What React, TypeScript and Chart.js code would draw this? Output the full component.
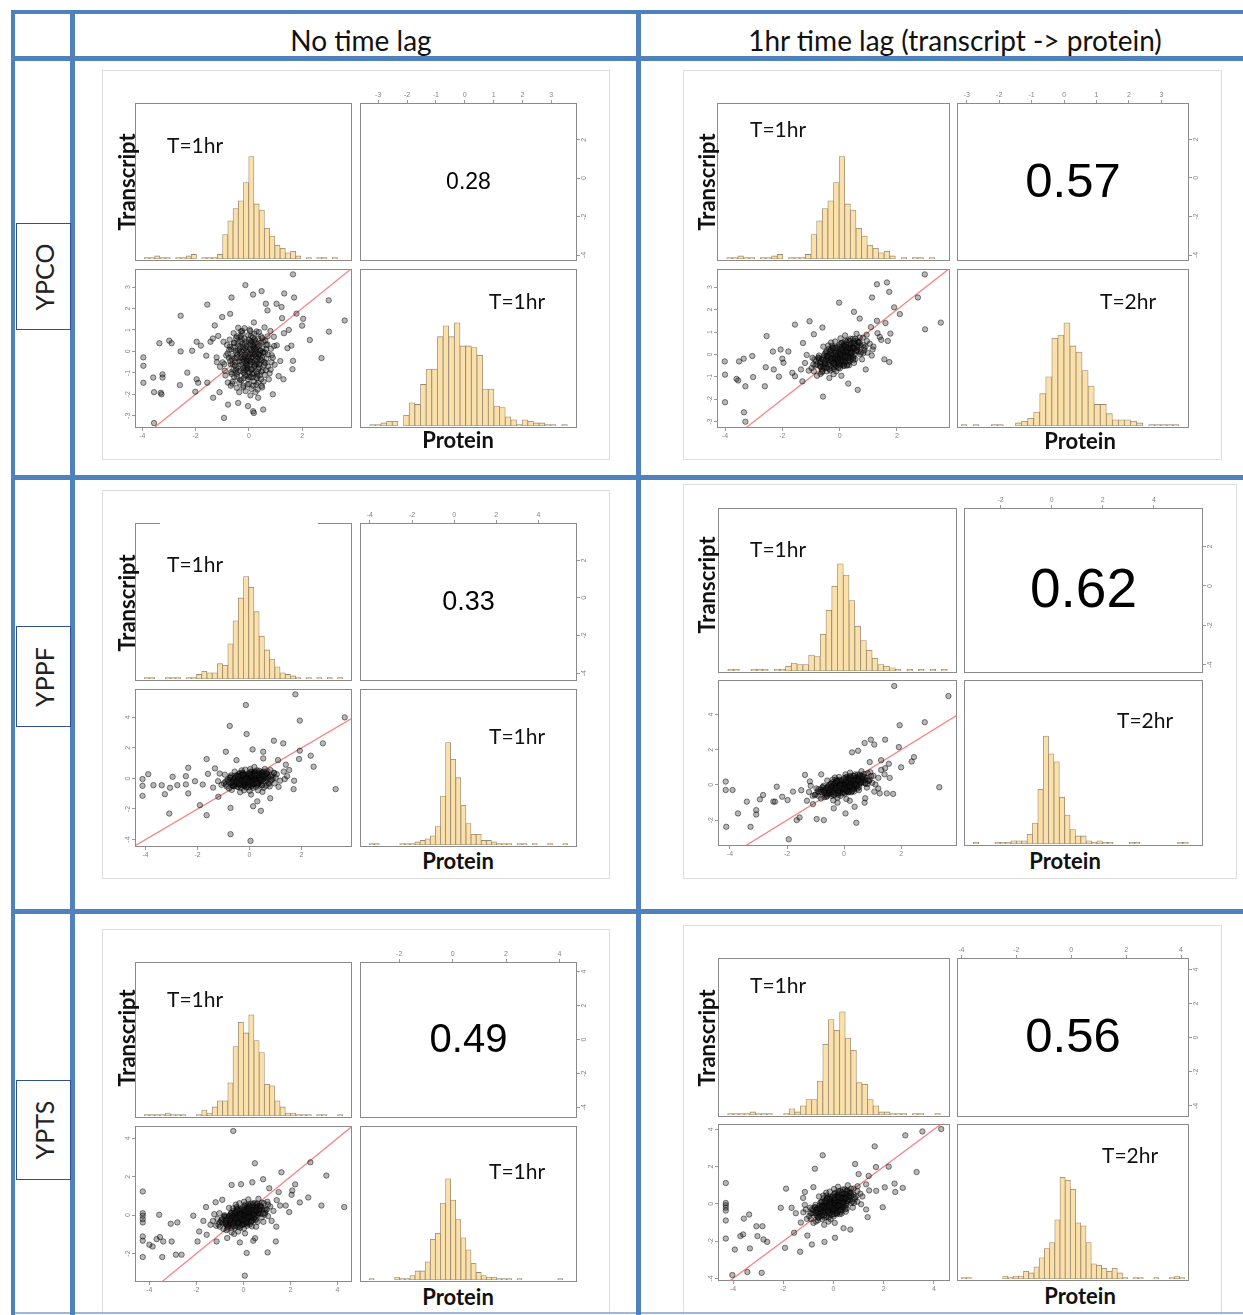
import React, { useEffect, useRef } from "react";
import { Chart, registerables } from "chart.js";

Chart.register(...registerables);

// ---------------- DATA ----------------
const columnHeaders = ["No time lag", "1hr time lag (transcript -> protein)"];
const strains = ["YPCO", "YPPF", "YPTS"];
const correlations = [0.28, 0.57, 0.33, 0.62, 0.49, 0.56];
const transcriptTimes = ["T=1hr", "T=1hr", "T=1hr", "T=1hr", "T=1hr", "T=1hr"];
const proteinTimes = ["T=1hr", "T=2hr", "T=1hr", "T=2hr", "T=1hr", "T=2hr"];
const identityLine = [-8, 8];

// histogram bar heights (% of panel height), left to right
const ypcoTranscriptHist = [0,1,1,2,1,1,0,1,1,2,3,0,1,1,1,3,16,25,33,38,50,67,36,32,20,15,9,7,4,5,2,0,1,0,1,1,0,1,0,0];
const ypcoProtein1hHist = [0,1,1,2,3,3,0,7,15,14,27,37,37,58,65,58,67,52,52,51,46,24,24,13,12,6,4,1,4,3,2,2,1,1,0,1,0];
const ypcoProtein2hHist = [1,0,1,0,0,1,1,0,0,2,3,5,9,21,32,57,59,67,52,48,36,26,14,14,8,4,4,4,3,2,0,1,1,1,1,1,0];
const yppfTranscriptHist = [0,1,1,0,0,1,1,1,0,1,1,3,5,4,4,10,9,23,38,53,67,60,44,28,19,13,8,4,3,2,1,0,1,0,1,0,1,0,1,0];
const yppfProtein1hHist = [0,1,1,0,0,0,0,1,1,1,2,3,4,6,12,32,67,56,44,26,14,7,7,3,3,2,1,1,1,0,1,1,0,1,0,0,1,0,0,1,0];
const yppfProtein2hHist = [0,1,0,0,0,1,1,1,2,2,2,6,13,34,67,56,51,29,18,9,5,5,2,1,2,1,1,0,0,0,1,1,0,0,0,0,0,0,0,1,1,0,0];
const yptsTranscriptHist = [0,1,1,1,1,2,1,1,1,0,0,1,4,2,6,10,10,22,46,62,55,67,50,42,21,20,10,6,2,2,1,1,1,0,1,1,0,0,1,0];
const yptsProtein1hHist = [0,1,0,0,0,0,2,1,1,3,6,6,12,27,31,51,67,53,40,28,20,11,5,3,2,2,1,1,1,0,1,0,0,0,0,0,0,0,1,0,0];
const yptsProtein2hHist = [1,1,0,0,0,0,0,0,2,1,2,2,5,4,8,14,20,24,39,67,65,59,37,35,24,10,9,7,5,7,4,1,0,1,1,0,0,1,0,0,1,2,1];

// scatter points [transcript, protein]
const ypcoNoLagCore: number[][] = [
[-0.52,-0.31],[0.12,0.44],[-0.18,-0.88],[0.37,-0.12],[-0.71,0.22],[0.05,-0.45],[0.62,0.51],[-0.33,-1.32],[0.21,-0.67],[-0.09,0.08],
[0.48,-0.94],[-0.61,-0.58],[0.29,0.93],[-0.24,0.36],[0.83,0.12],[-0.45,-1.05],[0.01,-1.52],[0.66,-0.33],[-0.85,-0.19],[0.17,0.18],
[-0.13,-0.29],[0.39,0.27],[-0.38,0.64],[0.94,0.68],[-0.02,-0.98],[0.55,-1.41],[-0.67,-0.97],[0.26,-0.22],[-0.29,-0.62],[0.08,0.72],
[0.72,-0.71],[-0.95,0.45],[0.33,-1.78],[-0.16,1.08],[1.05,0.28],[-0.51,0.04],[0.14,-1.21],[-0.79,-1.45],[0.44,0.02],[-0.06,-0.59],
[0.59,1.12],[-0.42,-0.16],[0.23,-0.41],[-1.08,-0.72],[0.86,-0.18],[-0.21,-1.68],[0.02,0.41],[0.41,-0.57],[-0.57,0.85],[1.18,-0.45],
[-0.34,0.12],[0.11,-0.83],[0.7,0.32],[-0.88,-1.12],[0.19,1.35],[-0.11,-1.14],[0.52,-0.05],[-0.63,-0.33],[0.31,-1.05],[-0.27,0.58],
[1.32,0.85],[-0.04,-0.24],[0.46,0.7],[-0.74,0.06],[0.15,-0.12],[-0.19,-0.43],[0.78,-1.02],[-0.47,-0.79],[0.03,1.02],[0.97,-0.62],
[-1.21,-0.28],[0.27,0.09],[-0.08,0.24],[0.64,-0.88],[-0.36,-1.9],[0.09,-0.34],[-0.55,0.38],[1.45,0.15],[0.36,-0.29],[-0.98,-0.51],
[0.22,0.56],[-0.14,-0.73],[0.5,-1.68],[-0.68,-1.6],[0.81,0.95],[-0.3,0.93],[1.12,-1.15],[-1.15,0.72],[0.06,-2.05],[0.58,-0.49]
];
const ypcoNoLagMid: number[][] = [
[0.72,-0.15],[-0.68,-0.6],[0.45,0.4],[-0.55,-1.2],[0.1,-1.75],[-0.25,0.95],[0.85,-0.5],[-0.82,0.3],[0.35,-1.45],[-0.4,1.1],
[0.6,-1.1],[-0.9,-0.9],[0.2,0.82],[-0.12,-1.85],[0.95,0.25],[-0.75,-0.3],[0.05,0.95],[0.4,-0.75],[-0.48,0.62],[0.7,0.7],
[-0.2,-1.6],[0.25,-1.9],[-0.62,-1.5],[0.82,-0.85],[-0.35,-0.45],[0.15,0.65],[-0.05,-0.8],[0.55,-0.05],[-0.72,0.55],[0.3,0.2],
[-0.15,-1.1],[0.48,-1.6],[-0.58,0.2],[0.12,-0.5],[-0.3,0.7],[0.65,0.1],[-0.45,-1.7],[0.02,-1.2],[0.38,0.9],[-0.8,-0.1],
[0.9,-0.3],[-0.22,0.2],[0.28,-0.6],[-0.5,-0.9],[0.75,-1.3],[-0.1,0.45],[0.18,-1.0],[-0.65,-1.05],[0.5,0.62],[-0.35,-0.05],
[0.08,-0.15],[-0.28,-1.35],[0.42,-0.35],[-0.92,-0.6],[0.62,-0.55],[-0.18,0.05],[0.22,0.4],[-0.42,0.35],[0.33,-1.15],[-0.08,-0.45]
];
const ypcoNoLagDense: number[][] = [
[0.05,-0.12],[-0.22,-0.35],[0.31,-0.48],[-0.4,0.05],[0.18,0.21],[-0.08,-0.71],[0.44,-0.2],[-0.31,-0.92],[0.12,-1.05],[-0.15,0.33],
[0.26,0.02],[-0.5,-0.5],[0.02,-0.44],[0.36,-0.82],[-0.27,-0.15],[0.09,0.48],[-0.62,-0.22],[0.51,0.14],[-0.03,-1.3],[0.22,-0.6],
[-0.44,-1.18],[0.15,-0.26],[-0.12,-0.55],[0.58,-0.62],[-0.35,0.24],[0.04,0.12],[0.33,0.35],[-0.2,-1.0],[0.4,-1.12],[-0.55,0.4],
[-0.07,-0.02],[0.27,-0.34],[-0.38,-0.68],[0.1,-0.85],[0.47,-0.42],[-0.16,0.6],[0.2,-1.4],[-0.47,-0.05],[0.06,-0.6],[0.35,0.6],
[-0.25,-0.48],[0.14,0.3],[-0.58,-0.85],[0.61,-0.05],[-0.1,-0.85],[0.29,-0.95],[-0.32,0.45],[0.0,-0.3],[0.42,0.05],[-0.19,-1.25],
[0.13,-0.05],[-0.43,-0.3],[0.24,0.5],[-0.05,-1.55],[0.52,-0.88],[-0.28,-0.02],[0.08,-1.2],[-0.66,0.1],[0.37,-0.15],[-0.13,0.15],
[0.19,-0.72],[-0.36,-1.45],[0.66,0.3],[-0.02,0.75],[0.3,-1.25],[-0.52,-0.65],[0.11,0.05],[-0.21,-0.78],[0.46,-1.3],[-0.09,-0.38],
[0.23,-0.12],[-0.45,0.7],[0.03,-0.95],[0.55,0.45],[-0.3,-0.3],[0.16,-1.6],[-0.6,-1.4],[0.39,-0.62],[-0.14,-0.15],[0.07,0.3],
[-0.24,0.85],[0.32,-0.05],[-0.4,-0.95],[0.5,-0.3],[-0.06,-0.65],[0.21,0.12],[-0.7,-0.45],[0.0,0.55],[0.28,-1.55],[-0.17,-0.25]
];
const ypcoNoLagTail: number[][] = [
[1.66,3.59],[-0.13,3.09],[-0.65,2.51],[0.16,2.65],[0.48,2.81],[1.33,2.7],[1.7,2.51],[3.0,2.38],[3.6,1.44],[3.01,0.92],
[2.29,0.53],[2.73,-0.31],[-1.56,2.18],[-2.56,1.66],[0.64,2.22],[1.04,2.22],[1.23,2.07],[0.7,1.91],[-1.28,1.21],[-1.44,0.45],
[-1.96,0.45],[-1.8,0.27],[-2.13,0.03],[-2.56,0.0],[-2.99,0.5],[-2.9,0.38],[-3.36,0.38],[-3.96,-0.28],[-3.96,-0.67],[-3.96,-1.46],
[-3.59,-1.22],[-3.24,-1.07],[-3.24,-1.22],[-3.56,-1.9],[-3.31,-1.93],[-3.28,-2.0],[-2.59,-1.57],[-2.31,-0.99],[-2.01,-1.88],[-1.96,-1.3],
[-1.9,-1.46],[-1.56,-1.46],[-1.34,-2.16],[-0.93,-3.1],[-3.56,-3.34],[-0.78,-2.48],[-0.03,-2.55],[0.16,-2.79],[0.19,-2.87],[0.54,-2.71],
[-0.4,-2.4],[0.35,-2.16],[2.04,1.52],[1.79,1.76],[2.0,1.2],[1.6,0.27],[1.66,-0.44],[1.64,-0.83],[-1.2,-0.5],[-1.35,0.6],
[1.5,1.0],[1.3,-1.3],[-1.0,1.6],[0.9,-2.0],[-1.6,-0.2],[1.25,1.55],[-0.7,1.75],[-1.1,-1.9]
];

const ypcoLagCore: number[][] = [
[-0.52,-0.41],[0.12,0.24],[-0.18,-0.38],[0.37,0.12],[-0.71,-0.22],[0.05,-0.25],[0.62,0.61],[-0.33,-0.72],[0.21,-0.17],[-0.09,0.18],
[0.48,-0.14],[-0.61,-0.68],[0.29,0.63],[-0.24,0.26],[0.83,0.42],[-0.45,-0.05],[0.01,-0.62],[0.66,0.13],[-0.85,-0.49],[0.17,0.38],
[-0.13,-0.09],[0.39,0.47],[-0.38,0.24],[0.94,0.88],[-0.02,-0.38],[0.55,-0.21],[-0.67,-0.87],[0.26,0.02],[-0.29,-0.32],[0.08,0.52],
[0.72,0.01],[-0.95,-0.15],[0.33,-0.48],[-0.16,0.58],[1.05,0.48],[-0.51,0.04],[0.14,-0.51],[-0.79,-0.95],[0.44,0.32],[-0.06,-0.19],
[0.59,0.92],[-0.42,-0.26],[0.23,0.09],[-1.08,-0.72],[0.86,0.18],[-0.21,-0.88],[0.02,0.21],[0.41,-0.07],[-0.57,0.35],[1.18,0.35],
[-0.34,0.02],[0.11,-0.33],[0.7,0.52],[-0.88,-0.22],[0.19,0.85],[-0.11,-0.54],[0.52,0.25],[-0.63,-0.43],[0.31,-0.25],[-0.27,0.38],
[1.32,0.95],[-0.04,0.06],[0.46,0.7],[-0.74,-0.14],[0.15,0.05],[-0.19,-0.13],[0.78,-0.22],[-0.47,-0.59],[0.03,0.72],[0.97,0.08],
[-1.21,-0.38],[0.27,0.29],[-0.08,-0.04],[0.64,0.36],[-0.36,-1.05],[0.09,-0.14],[-0.55,-0.15],[1.45,0.65],[0.36,0.31],[-0.98,-0.61],
[0.22,0.46],[-0.14,0.33],[0.5,-0.38],[-0.68,-0.35],[0.81,0.75],[-0.3,0.53],[1.12,-0.05],[-1.15,-0.02],[0.06,-0.95],[0.58,0.14]
];
const ypcoLagMid: number[][] = [
[0.72,0.4],[-0.68,-0.55],[0.45,0.5],[-0.55,-0.6],[0.1,-0.45],[-0.25,0.3],[0.85,0.3],[-0.82,-0.3],[0.35,-0.3],[-0.4,0.4],
[0.6,0.2],[-0.9,-0.75],[0.2,0.6],[-0.12,-0.75],[0.95,0.6],[-0.75,-0.15],[0.05,0.5],[0.4,0.0],[-0.48,0.1],[0.7,0.75],
[-0.2,-0.65],[0.25,-0.5],[-0.62,-0.8],[0.82,0.05],[-0.35,-0.25],[0.15,0.45],[-0.05,-0.3],[0.55,0.45],[-0.72,-0.05],[0.3,0.25],
[-0.15,-0.45],[0.48,-0.25],[-0.58,-0.25],[0.12,-0.1],[-0.3,0.15],[0.65,0.55],[-0.45,-0.75],[0.02,-0.5],[0.38,0.7],[-0.8,-0.45],
[0.9,0.35],[-0.22,0.0],[0.28,-0.05],[-0.5,-0.45],[0.75,0.1],[-0.1,0.3],[0.18,-0.35],[-0.65,-0.55],[0.5,0.6],[-0.35,-0.1],
[0.08,0.1],[-0.28,-0.6],[0.42,0.2],[-0.92,-0.45],[0.62,0.3],[-0.18,-0.2],[0.22,0.25],[-0.42,-0.05],[0.33,-0.15],[-0.08,-0.05]
];
const ypcoLagDense: number[][] = [
[0.05,0.02],[-0.22,-0.25],[0.31,0.1],[-0.4,-0.15],[0.18,0.25],[-0.08,-0.35],[0.44,0.35],[-0.31,-0.5],[0.12,-0.2],[-0.15,0.1],
[0.26,0.3],[-0.5,-0.4],[0.02,-0.15],[0.36,-0.05],[-0.27,0.0],[0.09,0.35],[-0.62,-0.2],[0.51,0.5],[-0.03,-0.45],[0.22,-0.05],
[-0.44,-0.6],[0.15,0.08],[-0.12,-0.2],[0.58,0.15],[-0.35,0.12],[0.04,0.18],[0.33,0.45],[-0.2,-0.55],[0.4,-0.2],[-0.55,-0.05],
[-0.07,0.05],[0.27,0.12],[-0.38,-0.35],[0.1,-0.4],[0.47,0.25],[-0.16,0.28],[0.2,-0.3],[-0.47,-0.2],[0.06,-0.05],[0.35,0.6],
[-0.25,-0.15],[0.14,0.4],[-0.58,-0.55],[0.61,0.4],[-0.1,-0.3],[0.29,-0.15],[-0.32,0.2],[0.0,0.02],[0.42,0.1],[-0.19,-0.45],
[0.13,0.12],[-0.43,-0.1],[0.24,0.55],[-0.05,-0.6],[0.52,0.0],[-0.28,-0.3],[0.08,-0.25],[-0.66,-0.35],[0.37,0.25],[-0.13,0.05],
[0.19,-0.1],[-0.36,-0.65],[0.66,0.55],[-0.02,0.35],[0.3,-0.35],[-0.52,-0.3],[0.11,0.2],[-0.21,-0.38],[0.46,-0.1],[-0.09,-0.1],
[0.23,0.18],[-0.45,0.15],[0.03,-0.32],[0.55,0.7],[-0.3,-0.2],[0.16,-0.5],[-0.6,-0.75],[0.39,0.05],[-0.14,-0.05],[0.07,0.28],
[-0.24,0.3],[0.32,0.3],[-0.4,-0.45],[0.5,0.3],[-0.06,-0.22],[0.21,0.35],[-0.7,-0.5],[0.0,0.45],[0.28,-0.45],[-0.17,-0.18]
];
const ypcoLagTail: number[][] = [
[2.97,3.57],[1.65,3.21],[1.3,3.13],[1.73,2.79],[2.73,2.54],[1.13,2.54],[-0.02,2.31],[3.53,1.42],[2.98,1.12],[-1.05,1.48],
[-1.56,1.33],[-2.55,0.82],[1.77,0.93],[1.68,0.6],[1.56,-0.22],[1.73,-0.34],[0.91,-0.67],[0.63,-1.58],[-0.58,-1.88],[-4.01,-0.31],
[-4.0,-0.9],[-4.0,-2.13],[-3.6,-1.09],[-3.54,-1.16],[-3.29,-1.42],[-3.05,-0.07],[-3.35,-0.19],[-3.51,-0.31],[-3.02,-1.01],[-2.61,-1.42],
[-2.58,-0.57],[-2.3,-0.67],[-2.33,0.13],[-2.06,0.22],[-1.79,0.13],[-1.96,-0.37],[-2.0,-0.19],[-2.12,-0.99],[-1.65,-0.82],[-1.56,-0.97],
[-1.35,-0.67],[-1.28,0.51],[-3.34,-2.58],[-3.29,-3.0],[1.15,0.22],[1.09,1.22],[1.4,0.78],[1.3,1.5],[0.7,1.6],[-0.9,0.9],
[1.6,1.4],[-1.3,-1.2],[0.3,-1.3],[2.1,1.8],[0.5,1.9],[-0.6,1.2],[1.9,2.1]
];

const yppfNoLagCore: number[][] = [
[-0.52,-0.21],[0.12,0.24],[-0.18,-0.48],[0.37,-0.02],[-0.71,0.12],[0.05,-0.25],[0.62,0.31],[-0.33,-0.62],[0.21,-0.37],[-0.09,0.08],
[0.48,-0.44],[-0.61,-0.38],[0.29,0.53],[-0.24,0.26],[0.83,0.12],[-0.45,-0.55],[0.01,-0.82],[0.66,-0.13],[-0.85,-0.09],[0.17,0.18],
[-0.13,-0.19],[0.39,0.27],[-0.38,0.34],[0.94,0.38],[-0.02,-0.58],[0.55,-0.61],[-0.67,-0.47],[0.26,-0.12],[-0.29,-0.32],[0.08,0.42],
[0.72,-0.31],[-0.95,0.25],[0.33,-0.78],[-0.16,0.58],[1.05,0.28],[-0.51,0.04],[0.14,-0.61],[-0.79,-0.65],[0.44,0.02],[-0.06,-0.29],
[0.59,0.62],[-0.42,-0.06],[0.23,-0.21],[-1.08,-0.42],[0.86,-0.08],[-0.21,-0.78],[0.02,0.21],[0.41,-0.27],[-0.57,0.45],[1.18,-0.15],
[-0.34,0.12],[0.11,-0.43],[0.7,0.22],[-0.88,-0.52],[0.19,0.75],[-0.11,-0.54],[0.52,-0.05],[-0.63,-0.23],[0.31,-0.45],[-0.27,0.38],
[1.32,0.45],[-0.04,-0.04],[0.46,0.4],[-0.74,0.06],[0.15,0.05],[-0.19,-0.23],[0.78,-0.52],[-0.47,-0.39],[0.03,0.62],[0.97,-0.32],
[-1.21,-0.18],[0.27,0.09],[-0.08,0.24],[0.64,-0.48],[-0.36,-0.9],[0.09,-0.14],[-0.55,0.18],[1.45,0.15],[0.36,0.21],[-0.98,-0.31],
[0.22,0.36],[-0.14,-0.33],[0.5,-0.88],[-0.68,-0.75],[0.81,0.55],[-0.3,0.53],[1.12,-0.55],[-1.15,0.32],[0.06,-1.05],[0.58,0.08]
];
const yppfNoLagMid: number[][] = [
[0.72,0.1],[-0.68,-0.3],[0.45,0.3],[-0.55,-0.4],[0.1,-0.5],[-0.25,0.35],[0.85,0.2],[-0.82,-0.1],[0.35,-0.35],[-0.4,0.3],
[0.6,-0.2],[-0.9,-0.4],[0.2,0.45],[-0.12,-0.6],[0.95,0.35],[-0.75,0.05],[0.05,0.45],[0.4,-0.05],[-0.48,0.2],[0.7,0.45],
[-0.2,-0.5],[0.25,-0.55],[-0.62,-0.5],[0.82,-0.15],[-0.35,-0.2],[0.15,0.35],[-0.05,-0.3],[0.55,0.2],[-0.72,0.2],[0.3,0.15],
[-0.15,-0.4],[0.48,-0.45],[-0.58,0.0],[0.12,-0.15],[-0.3,0.25],[0.65,0.3],[-0.45,-0.55],[0.02,-0.42],[0.38,0.5],[-0.8,-0.25],
[0.9,0.0],[-0.22,0.1],[0.28,-0.2],[-0.5,-0.3],[0.75,-0.35],[-0.1,0.25],[0.18,-0.35],[-0.65,-0.45],[0.5,0.4],[-0.35,0.0],
[0.08,0.05],[-0.28,-0.45],[0.42,-0.1],[-0.92,-0.2],[0.62,0.05],[-0.18,-0.1],[0.22,0.2],[-0.42,0.15],[0.33,-0.3],[-0.08,-0.15]
];
const yppfNoLagDense: number[][] = [
[0.05,-0.02],[-0.22,-0.15],[0.31,0.1],[-0.4,-0.05],[0.18,0.2],[-0.08,-0.25],[0.44,0.15],[-0.31,-0.35],[0.12,-0.18],[-0.15,0.1],
[0.26,0.22],[-0.5,-0.25],[0.02,-0.12],[0.36,-0.1],[-0.27,0.02],[0.09,0.28],[-0.62,-0.1],[0.51,0.3],[-0.03,-0.35],[0.22,-0.05],
[-0.44,-0.38],[0.15,0.05],[-0.12,-0.15],[0.58,0.05],[-0.35,0.12],[0.04,0.15],[0.33,0.32],[-0.2,-0.4],[0.4,-0.2],[-0.55,0.05],
[-0.07,0.05],[0.27,0.05],[-0.38,-0.25],[0.1,-0.3],[0.47,0.12],[-0.16,0.22],[0.2,-0.28],[-0.47,-0.12],[0.06,-0.05],[0.35,0.4],
[-0.25,-0.1],[0.14,0.3],[-0.58,-0.35],[0.61,0.25],[-0.1,-0.25],[0.29,-0.15],[-0.32,0.18],[0.0,0.0],[0.42,0.05],[-0.19,-0.32],
[0.13,0.1],[-0.43,-0.05],[0.24,0.38],[-0.05,-0.42],[0.52,-0.05],[-0.28,-0.22],[0.08,-0.2],[-0.66,-0.2],[0.37,0.18],[-0.13,0.05],
[0.19,-0.08],[-0.36,-0.45],[0.66,0.35],[-0.02,0.28],[0.3,-0.28],[-0.52,-0.22],[0.11,0.15],[-0.21,-0.28],[0.46,-0.12],[-0.09,-0.08],
[0.23,0.14],[-0.45,0.15],[0.03,-0.25],[0.55,0.45],[-0.3,-0.15],[0.16,-0.38],[-0.6,-0.5],[0.39,0.02],[-0.14,-0.02],[0.07,0.22],
[-0.24,0.25],[0.32,0.22],[-0.4,-0.32],[0.5,0.2],[-0.06,-0.18],[0.21,0.25],[-0.7,-0.3],[0.0,0.35],[0.28,-0.35],[-0.17,-0.12]
];
const yppfNoLagTail: number[][] = [
[1.77,5.51],[-0.14,4.81],[1.94,3.79],[3.67,4.0],[-0.76,3.44],[-0.11,2.91],[2.83,2.3],[0.94,2.47],[1.3,2.3],[1.94,1.82],
[1.91,1.27],[2.36,1.49],[2.47,0.77],[3.32,-0.7],[-0.91,1.75],[0.12,1.9],[0.53,1.75],[-2.36,0.7],[-1.65,1.27],[-1.33,0.66],
[-4.12,-0.04],[-4.12,-0.48],[-4.12,-1.14],[-3.9,0.28],[-3.7,-0.44],[-3.38,-0.44],[-3.26,-1.03],[-3.06,-0.61],[-2.78,-0.44],[-2.96,0.11],
[-2.45,0.15],[-2.36,-0.98],[-2.45,-0.39],[-2.1,-0.18],[-1.91,-1.75],[-3.09,-2.3],[-1.65,-2.41],[-0.73,-1.93],[-0.73,-3.65],[0.04,-4.09],
[0.44,-2.12],[0.14,-1.82],[1.36,-0.04],[1.72,-0.15],[1.53,0.55],[1.01,0.04],[0.53,1.31],[-1.4,-0.6],[-1.6,0.3],[1.4,0.9],
[0.8,-1.3],[-0.5,1.2],[-1.2,-1.2],[1.7,-0.7],[0.3,-1.5],[-1.8,-0.4],[1.1,1.2]
];

const yppfLagCore: number[][] = [
[-0.5,-0.35],[0.14,0.2],[-0.2,-0.33],[0.35,0.16],[-0.73,-0.28],[0.07,-0.2],[0.6,0.5],[-0.35,-0.6],[0.23,-0.1],[-0.07,0.14],
[0.46,-0.06],[-0.63,-0.55],[0.31,0.52],[-0.26,0.2],[0.81,0.4],[-0.43,-0.1],[0.03,-0.5],[0.68,0.18],[-0.87,-0.42],[0.19,0.3],
[-0.15,-0.05],[0.41,0.4],[-0.4,0.15],[0.92,0.72],[-0.04,-0.3],[0.53,-0.12],[-0.69,-0.7],[0.28,0.05],[-0.31,-0.25],[0.1,0.45],
[0.74,0.08],[-0.97,-0.2],[0.35,-0.38],[-0.18,0.45],[1.03,0.52],[-0.53,-0.02],[0.16,-0.42],[-0.81,-0.78],[0.46,0.28],[-0.08,-0.14],
[0.61,0.78],[-0.44,-0.22],[0.25,0.1],[-1.1,-0.62],[0.88,0.22],[-0.23,-0.72],[0.04,0.18],[0.43,-0.02],[-0.59,0.25],[1.2,0.4],
[-0.36,-0.02],[0.13,-0.26],[0.72,0.45],[-0.9,-0.25],[0.21,0.7],[-0.13,-0.45],[0.54,0.22],[-0.65,-0.38],[0.33,-0.18],[-0.29,0.3],
[1.3,0.85],[-0.06,0.04],[0.48,0.6],[-0.76,-0.15],[0.17,0.06],[-0.21,-0.12],[0.8,-0.15],[-0.49,-0.5],[0.05,0.6],[0.99,0.12],
[-1.23,-0.4],[0.29,0.25],[-0.1,-0.02],[0.66,0.32],[-0.38,-0.88],[0.11,-0.1],[-0.57,-0.12],[1.42,0.6],[0.38,0.27],[-1.0,-0.55],
[0.24,0.38],[-0.16,0.28],[0.52,-0.3],[-0.7,-0.32],[0.83,0.66],[-0.32,0.42],[1.1,0.02],[-1.17,-0.05],[0.08,-0.8],[0.6,0.12]
];
const yppfLagMid: number[][] = [
[0.72,0.3],[-0.68,-0.5],[0.45,0.42],[-0.55,-0.5],[0.1,-0.38],[-0.25,0.25],[0.85,0.25],[-0.82,-0.28],[0.35,-0.25],[-0.4,0.3],
[0.6,0.12],[-0.9,-0.62],[0.2,0.5],[-0.12,-0.62],[0.95,0.5],[-0.75,-0.12],[0.05,0.42],[0.4,0.0],[-0.48,0.05],[0.7,0.62],
[-0.2,-0.55],[0.25,-0.42],[-0.62,-0.68],[0.82,0.05],[-0.35,-0.22],[0.15,0.38],[-0.05,-0.25],[0.55,0.38],[-0.72,-0.05],[0.3,0.2],
[-0.15,-0.38],[0.48,-0.2],[-0.58,-0.22],[0.12,-0.08],[-0.3,0.12],[0.65,0.45],[-0.45,-0.62],[0.02,-0.42],[0.38,0.6],[-0.8,-0.4],
[0.9,0.3],[-0.22,0.0],[0.28,-0.05],[-0.5,-0.38],[0.75,0.08],[-0.1,0.25],[0.18,-0.3],[-0.65,-0.45],[0.5,0.5],[-0.35,-0.08],
[0.08,0.08],[-0.28,-0.5],[0.42,0.16],[-0.92,-0.38],[0.62,0.25],[-0.18,-0.16],[0.22,0.2],[-0.42,-0.05],[0.33,-0.12],[-0.08,-0.04]
];
const yppfLagDense: number[][] = [
[0.05,0.0],[-0.22,-0.2],[0.31,0.12],[-0.4,-0.12],[0.18,0.22],[-0.08,-0.28],[0.44,0.3],[-0.31,-0.4],[0.12,-0.12],[-0.15,0.05],
[0.26,0.25],[-0.5,-0.35],[0.02,-0.12],[0.36,0.0],[-0.27,-0.02],[0.09,0.3],[-0.62,-0.18],[0.51,0.42],[-0.03,-0.38],[0.22,-0.02],
[-0.44,-0.5],[0.15,0.08],[-0.12,-0.18],[0.58,0.15],[-0.35,0.05],[0.04,0.15],[0.33,0.38],[-0.2,-0.45],[0.4,-0.12],[-0.55,-0.08],
[-0.07,0.02],[0.27,0.1],[-0.38,-0.3],[0.1,-0.32],[0.47,0.22],[-0.16,0.2],[0.2,-0.22],[-0.47,-0.2],[0.06,-0.04],[0.35,0.5],
[-0.25,-0.14],[0.14,0.32],[-0.58,-0.45],[0.61,0.35],[-0.1,-0.25],[0.29,-0.1],[-0.32,0.12],[0.0,0.0],[0.42,0.1],[-0.19,-0.38],
[0.13,0.1],[-0.43,-0.1],[0.24,0.45],[-0.05,-0.48],[0.52,0.02],[-0.28,-0.25],[0.08,-0.2],[-0.66,-0.3],[0.37,0.22],[-0.13,0.02],
[0.19,-0.06],[-0.36,-0.55],[0.66,0.48],[-0.02,0.28],[0.3,-0.26],[-0.52,-0.28],[0.11,0.16],[-0.21,-0.32],[0.46,-0.05],[-0.09,-0.1],
[0.23,0.16],[-0.45,0.08],[0.03,-0.26],[0.55,0.58],[-0.3,-0.18],[0.16,-0.4],[-0.6,-0.62],[0.39,0.05],[-0.14,-0.04],[0.07,0.24],
[-0.24,0.22],[0.32,0.26],[-0.4,-0.4],[0.5,0.26],[-0.06,-0.2],[0.21,0.3],[-0.7,-0.42],[0.0,0.38],[0.28,-0.36],[-0.17,-0.16]
];
const yppfLagTail: number[][] = [
[1.76,5.62],[3.66,5.05],[1.95,3.39],[2.83,3.56],[1.44,2.57],[0.94,2.57],[0.72,2.38],[1.06,2.29],[1.92,2.15],[2.45,1.58],
[2.37,1.33],[0.49,1.94],[0.28,1.85],[1.57,1.2],[1.44,0.95],[3.34,-0.13],[1.25,-0.48],[1.5,-0.48],[1.72,-0.51],[1.06,-0.38],
[0.74,-0.76],[0.72,-1.01],[0.37,-1.24],[0.43,-2.15],[0.05,-1.62],[-0.23,-1.01],[-0.71,-2.0],[-0.96,-1.94],[-0.36,-1.33],[-1.37,0.57],
[-1.03,-0.57],[-1.09,-1.09],[-2.36,-0.1],[-2.48,-0.95],[-2.42,-0.95],[-2.84,-0.57],[-2.95,-0.82],[-3.41,-0.95],[-3.08,-1.43],[-3.08,-1.68],
[-3.72,-1.62],[-3.28,-2.38],[-4.13,-2.38],[-4.15,0.19],[-4.15,-0.29],[-3.91,-0.29],[-1.94,-3.09],[-1.66,-2.0],[-1.56,-1.85],[-1.98,-0.86],
[-2.17,-0.67],[-1.79,-0.38],[1.3,1.4],[-1.3,-0.9],[1.6,0.4],[-0.8,0.6],[0.9,1.3],[-1.5,-0.3],[0.2,-0.9],[2.0,1.0],
[-1.2,0.2],[1.2,-0.2]
];

const yptsNoLagCore: number[][] = [
[-0.55,-0.3],[0.15,0.3],[-0.2,-0.42],[0.4,0.1],[-0.75,-0.1],[0.05,-0.2],[0.66,0.48],[-0.35,-0.66],[0.24,-0.2],[-0.1,0.15],
[0.52,-0.2],[-0.65,-0.52],[0.32,0.6],[-0.26,0.28],[0.9,0.32],[-0.48,-0.18],[0.02,-0.7],[0.72,0.05],[-0.92,-0.35],[0.19,0.35],
[-0.14,-0.12],[0.43,0.42],[-0.41,0.22],[1.02,0.7],[-0.03,-0.45],[0.6,-0.35],[-0.72,-0.78],[0.28,0.0],[-0.31,-0.35],[0.09,0.55],
[0.78,-0.12],[-1.02,0.1],[0.36,-0.58],[-0.17,0.62],[1.14,0.45],[-0.55,0.05],[0.15,-0.55],[-0.85,-0.72],[0.48,0.25],[-0.06,-0.22],
[0.64,0.85],[-0.45,-0.15],[0.25,0.05],[-1.16,-0.55],[0.93,0.12],[-0.22,-0.85],[0.03,0.25],[0.45,-0.12],[-0.61,0.38],[1.28,0.22],
[-0.37,0.05],[0.12,-0.38],[0.76,0.42],[-0.95,-0.28],[0.21,0.82],[-0.12,-0.55],[0.56,0.18],[-0.68,-0.4],[0.34,-0.32],[-0.29,0.42],
[1.42,0.78],[-0.04,0.02],[0.5,0.62],[-0.8,-0.05],[0.16,0.08],[-0.2,-0.2],[0.85,-0.35],[-0.51,-0.55],[0.03,0.7],[1.05,-0.05],
[-1.3,-0.3],[0.29,0.22],[-0.09,0.08],[0.69,0.28],[-0.39,-0.98],[0.1,-0.12],[-0.59,-0.05],[1.56,0.5],[0.39,0.25],[-1.06,-0.5],
[0.24,0.45],[-0.15,0.32],[0.54,-0.6],[-0.73,-0.42],[0.87,0.62],[-0.32,0.55],[1.2,-0.3],[-1.24,0.05],[0.07,-0.95],[0.62,0.1]
];
const yptsNoLagMid: number[][] = [
[0.8,0.3],[-0.75,-0.45],[0.5,0.45],[-0.6,-0.55],[0.12,-0.45],[-0.28,0.35],[0.95,0.25],[-0.9,-0.2],[0.38,-0.3],[-0.45,0.35],
[0.66,0.1],[-1.0,-0.6],[0.22,0.55],[-0.13,-0.65],[1.05,0.55],[-0.82,-0.08],[0.06,0.48],[0.44,0.0],[-0.53,0.1],[0.78,0.65],
[-0.22,-0.6],[0.28,-0.48],[-0.68,-0.7],[0.9,0.02],[-0.38,-0.22],[0.16,0.42],[-0.06,-0.28],[0.6,0.4],[-0.8,0.0],[0.33,0.22],
[-0.16,-0.42],[0.53,-0.25],[-0.64,-0.2],[0.13,-0.1],[-0.33,0.18],[0.72,0.5],[-0.5,-0.65],[0.02,-0.48],[0.42,0.62],[-0.88,-0.4],
[1.0,0.3],[-0.24,0.05],[0.31,-0.05],[-0.55,-0.4],[0.83,0.08],[-0.11,0.3],[0.2,-0.35],[-0.72,-0.5],[0.55,0.55],[-0.38,-0.05],
[0.09,0.1],[-0.31,-0.55],[0.46,0.18],[-1.01,-0.38],[0.68,0.28],[-0.2,-0.16],[0.24,0.24],[-0.46,0.02],[0.36,-0.15],[-0.09,-0.06]
];
const yptsNoLagDense: number[][] = [
[0.06,0.0],[-0.24,-0.18],[0.34,0.15],[-0.44,-0.1],[0.2,0.25],[-0.09,-0.3],[0.48,0.28],[-0.34,-0.42],[0.13,-0.15],[-0.17,0.08],
[0.29,0.28],[-0.55,-0.3],[0.02,-0.1],[0.4,0.02],[-0.3,0.0],[0.1,0.32],[-0.68,-0.15],[0.56,0.4],[-0.03,-0.4],[0.24,-0.05],
[-0.48,-0.48],[0.17,0.1],[-0.13,-0.2],[0.64,0.12],[-0.38,0.08],[0.04,0.18],[0.36,0.4],[-0.22,-0.48],[0.44,-0.15],[-0.6,-0.05],
[-0.08,0.05],[0.3,0.12],[-0.42,-0.28],[0.11,-0.35],[0.52,0.2],[-0.18,0.24],[0.22,-0.25],[-0.52,-0.18],[0.07,-0.02],[0.38,0.52],
[-0.28,-0.12],[0.15,0.36],[-0.64,-0.42],[0.67,0.32],[-0.11,-0.28],[0.32,-0.12],[-0.35,0.15],[0.0,0.02],[0.46,0.08],[-0.21,-0.4],
[0.14,0.12],[-0.47,-0.08],[0.26,0.48],[-0.06,-0.5],[0.57,0.0],[-0.31,-0.24],[0.09,-0.22],[-0.73,-0.28],[0.41,0.24],[-0.14,0.04],
[0.21,-0.08],[-0.4,-0.58],[0.73,0.45],[-0.02,0.3],[0.33,-0.3],[-0.57,-0.25],[0.12,0.18],[-0.23,-0.35],[0.51,-0.08],[-0.1,-0.12],
[0.25,0.18],[-0.5,0.12],[0.03,-0.28],[0.6,0.6],[-0.33,-0.16],[0.18,-0.42],[-0.66,-0.6],[0.43,0.04],[-0.15,-0.04],[0.08,0.26],
[-0.26,0.25],[0.35,0.28],[-0.44,-0.42],[0.55,0.25],[-0.07,-0.22],[0.23,0.32],[-0.77,-0.4],[0.0,0.4],[0.31,-0.38],[-0.19,-0.15]
];
const yptsNoLagTail: number[][] = [
[-0.43,4.38],[0.49,2.7],[2.85,2.75],[1.62,2.23],[3.53,2.06],[0.84,1.87],[0.38,1.71],[-0.5,1.57],[-0.1,1.61],[2.08,1.28],
[2.05,1.06],[2.4,0.66],[2.76,0.92],[3.32,0.5],[4.29,0.42],[1.95,0.16],[1.38,-1.37],[1.03,-1.94],[0.14,-1.97],[0.06,-3.15],
[0.42,-1.33],[-4.28,1.23],[-4.28,0.1],[-4.28,-0.03],[-4.28,-0.21],[-4.28,-0.38],[-4.28,-1.11],[-4.28,-1.33],[-4.28,-2.18],[-4.0,-1.54],
[-3.86,-1.63],[-3.69,-1.25],[-3.55,-1.14],[-3.41,-1.37],[-3.45,-2.18],[-3.58,0.02],[-3.09,-0.45],[-2.81,-0.38],[-3.05,-1.37],[-2.87,-2.06],
[-2.63,-2.06],[-1.95,-1.37],[-1.88,-0.85],[-2.13,-0.03],[-1.59,0.42],[-1.18,0.67],[-1.56,-1.02],[-1.14,-1.37],[-0.69,-1.19],[-0.5,-0.9],
[-0.15,-1.42],[1.5,1.2],[-1.4,-0.5],[1.8,0.5],[-0.9,0.8],[1.1,1.4],[-1.7,-0.3],[0.5,-1.2],[2.2,1.6],[-1.1,-0.2],[1.4,-0.6]
];

const yptsLagCore: number[][] = [
[-0.5,-0.45],[0.1,0.3],[-0.22,-0.35],[0.38,0.2],[-0.68,-0.3],[0.04,-0.3],[0.6,0.7],[-0.35,-0.75],[0.2,-0.15],[-0.1,0.25],
[0.5,-0.1],[-0.6,-0.75],[0.27,0.7],[-0.25,0.3],[0.8,0.5],[-0.47,-0.1],[0.0,-0.68],[0.65,0.2],[-0.88,-0.5],[0.16,0.42],
[-0.14,-0.05],[0.37,0.52],[-0.39,0.3],[0.96,0.95],[-0.03,-0.42],[0.53,-0.25],[-0.7,-0.95],[0.25,0.06],[-0.3,-0.38],[0.07,0.6],
[0.7,0.05],[-0.93,-0.2],[0.32,-0.52],[-0.15,0.66],[1.07,0.55],[-0.52,0.08],[0.13,-0.56],[-0.8,-1.02],[0.43,0.36],[-0.07,-0.22],
[0.57,1.0],[-0.43,-0.3],[0.22,0.12],[-1.06,-0.8],[0.85,0.25],[-0.2,-0.95],[0.01,0.26],[0.4,-0.05],[-0.58,0.4],[1.15,0.4],
[-0.33,0.05],[0.1,-0.38],[0.69,0.58],[-0.86,-0.28],[0.18,0.92],[-0.12,-0.6],[0.5,0.3],[-0.64,-0.48],[0.3,-0.28],[-0.28,0.45],
[1.3,1.05],[-0.05,0.08],[0.45,0.78],[-0.73,-0.18],[0.14,0.08],[-0.18,-0.15],[0.77,-0.2],[-0.46,-0.65],[0.02,0.8],[0.95,0.12],
[-1.2,-0.45],[0.26,0.32],[-0.09,-0.02],[0.63,0.4],[-0.37,-1.12],[0.08,-0.16],[-0.54,-0.18],[1.42,0.72],[0.35,0.35],[-0.97,-0.66],
[0.21,0.5],[-0.13,0.38],[0.49,-0.42],[-0.67,-0.4],[0.8,0.82],[-0.29,0.6],[1.1,-0.02],[-1.14,-0.05],[0.05,-1.02],[0.57,0.16]
];
const yptsLagMid: number[][] = [
[0.72,0.45],[-0.68,-0.62],[0.45,0.55],[-0.55,-0.68],[0.1,-0.5],[-0.25,0.35],[0.85,0.35],[-0.82,-0.35],[0.35,-0.35],[-0.4,0.45],
[0.6,0.22],[-0.9,-0.82],[0.2,0.68],[-0.12,-0.82],[0.95,0.68],[-0.75,-0.18],[0.05,0.55],[0.4,0.0],[-0.48,0.1],[0.7,0.82],
[-0.2,-0.72],[0.25,-0.55],[-0.62,-0.88],[0.82,0.05],[-0.35,-0.28],[0.15,0.5],[-0.05,-0.35],[0.55,0.5],[-0.72,-0.05],[0.3,0.28],
[-0.15,-0.5],[0.48,-0.28],[-0.58,-0.28],[0.12,-0.12],[-0.3,0.18],[0.65,0.62],[-0.45,-0.82],[0.02,-0.55],[0.38,0.78],[-0.8,-0.5],
[0.9,0.4],[-0.22,0.0],[0.28,-0.06],[-0.5,-0.5],[0.75,0.12],[-0.1,0.35],[0.18,-0.4],[-0.65,-0.62],[0.5,0.68],[-0.35,-0.12],
[0.08,0.12],[-0.28,-0.68],[0.42,0.22],[-0.92,-0.5],[0.62,0.35],[-0.18,-0.22],[0.22,0.28],[-0.42,-0.06],[0.33,-0.18],[-0.08,-0.06]
];
const yptsLagDense: number[][] = [
[0.04,0.03],[-0.23,-0.22],[0.3,0.12],[-0.41,-0.18],[0.17,0.28],[-0.09,-0.32],[0.43,0.38],[-0.32,-0.48],[0.11,-0.18],[-0.16,0.12],
[0.25,0.32],[-0.51,-0.38],[0.01,-0.12],[0.35,-0.02],[-0.28,0.02],[0.08,0.38],[-0.63,-0.22],[0.5,0.52],[-0.04,-0.42],[0.21,-0.02],
[-0.45,-0.58],[0.14,0.1],[-0.13,-0.18],[0.57,0.18],[-0.36,0.1],[0.03,0.2],[0.32,0.48],[-0.21,-0.52],[0.39,-0.18],[-0.56,-0.08],
[-0.08,0.06],[0.26,0.14],[-0.39,-0.32],[0.09,-0.38],[0.46,0.28],[-0.17,0.26],[0.19,-0.28],[-0.48,-0.22],[0.05,-0.03],[0.34,0.62],
[-0.26,-0.12],[0.13,0.42],[-0.59,-0.52],[0.6,0.42],[-0.11,-0.28],[0.28,-0.12],[-0.33,0.18],[-0.01,0.04],[0.41,0.12],[-0.2,-0.42],
[0.12,0.14],[-0.44,-0.12],[0.23,0.58],[-0.06,-0.58],[0.51,0.02],[-0.29,-0.28],[0.07,-0.22],[-0.67,-0.32],[0.36,0.28],[-0.14,0.06],
[0.18,-0.08],[-0.37,-0.62],[0.65,0.58],[-0.03,0.36],[0.29,-0.32],[-0.53,-0.28],[0.1,0.22],[-0.22,-0.36],[0.45,-0.08],[-0.1,-0.08],
[0.22,0.2],[-0.46,0.12],[0.02,-0.3],[0.54,0.72],[-0.31,-0.18],[0.15,-0.48],[-0.61,-0.72],[0.38,0.06],[-0.15,-0.04],[0.06,0.3],
[-0.25,0.28],[0.31,0.32],[-0.41,-0.42],[0.49,0.32],[-0.07,-0.2],[0.2,0.36],[-0.71,-0.48],[-0.01,0.46],[0.27,-0.42],[-0.18,-0.16]
];
const yptsLagTail: number[][] = [
[4.29,4.02],[3.54,3.89],[2.86,3.68],[1.64,3.09],[-0.43,2.61],[0.86,2.14],[1.69,1.98],[-0.74,1.89],[3.31,1.71],[2.43,1.09],
[2.04,0.89],[2.76,0.86],[2.46,0.64],[1.96,-0.18],[1.36,-0.71],[-1.89,0.82],[-2.1,-0.21],[-1.67,-0.21],[-4.29,1.12],[-4.29,0.05],
[-4.29,-0.07],[-4.29,-0.21],[-4.29,-0.36],[-4.29,-0.89],[-4.29,-1.86],[-3.57,-0.79],[-3.36,-0.57],[-3.6,-1.64],[-3.71,-1.73],[-3.07,-1.2],
[-2.83,-1.2],[-3.03,-1.73],[-2.79,-1.91],[-2.64,-2.04],[-3.93,-2.45],[-3.33,-2.39],[-4.03,-3.82],[-3.43,-3.66],[-2.86,-3.7],[-1.93,-2.36],
[-1.57,-1.55],[-1.33,-2.57],[-1.04,-1.7],[-0.86,-2.18],[-0.36,-2.04],[0.06,-1.82],[0.67,-1.38],[-1.14,0.64],[-1.21,0.32],[1.4,1.5],
[-1.3,-1.0],[1.7,0.7],[-0.8,0.9],[1.0,1.6],[-1.5,-0.5],[0.4,-1.3],[2.2,2.0],[-1.1,-0.3],[1.3,-0.3]
];

const panelSeries = [
  { transcript: ypcoTranscriptHist, protein: ypcoProtein1hHist, clouds: [ypcoNoLagTail, ypcoNoLagCore, ypcoNoLagMid, ypcoNoLagDense] },
  { transcript: ypcoTranscriptHist, protein: ypcoProtein2hHist, clouds: [ypcoLagTail, ypcoLagCore, ypcoLagMid, ypcoLagDense] },
  { transcript: yppfTranscriptHist, protein: yppfProtein1hHist, clouds: [yppfNoLagTail, yppfNoLagCore, yppfNoLagMid, yppfNoLagDense] },
  { transcript: yppfTranscriptHist, protein: yppfProtein2hHist, clouds: [yppfLagTail, yppfLagCore, yppfLagMid, yppfLagDense] },
  { transcript: yptsTranscriptHist, protein: yptsProtein1hHist, clouds: [yptsNoLagTail, yptsNoLagCore, yptsNoLagMid, yptsNoLagDense] },
  { transcript: yptsTranscriptHist, protein: yptsProtein2hHist, clouds: [yptsLagTail, yptsLagCore, yptsLagMid, yptsLagDense] },
];

// ---------------- LAYOUT ----------------
type Box = { x: number; y: number; w: number; h: number };
type Pt = { x: number; y: number };
type Layout = {
  frame: Box; h1: Box; tx: Box; sc: Box; h2: Box;
  trans: Pt; prot: Pt; t1: Pt; t2: Pt; corrSize: number;
  scX: number[]; scY: number[]; scXStep: number; scYStep: number;
  txX: number[]; txY: number[]; txXStep: number; txYStep: number;
};

const layouts: Layout[] = [
  { frame: { x: 102, y: 70, w: 508, h: 390 }, h1: { x: 135, y: 103, w: 217, h: 158 }, tx: { x: 360, y: 103, w: 217, h: 158 },
    sc: { x: 135, y: 269, w: 217, h: 159 }, h2: { x: 360, y: 269, w: 217, h: 159 },
    trans: { x: 127, y: 182 }, prot: { x: 458, y: 440 }, t1: { x: 167, y: 144 }, t2: { x: 489, y: 300 }, corrSize: 23,
    scX: [-4.275, 3.875], scY: [-3.57, 3.84], scXStep: 2, scYStep: 1, txX: [-3.63, 3.89], txY: [-4.31, 3.91], txXStep: 1, txYStep: 2 },
  { frame: { x: 683, y: 70, w: 539, h: 390 }, h1: { x: 717, y: 103, w: 233, h: 158 }, tx: { x: 957, y: 103, w: 232, h: 158 },
    sc: { x: 717, y: 269, w: 233, h: 159 }, h2: { x: 957, y: 269, w: 232, h: 159 },
    trans: { x: 707, y: 182 }, prot: { x: 1080, y: 441 }, t1: { x: 750, y: 128 }, t2: { x: 1100, y: 300 }, corrSize: 49,
    scX: [-4.28, 3.85], scY: [-3.28, 3.81], scXStep: 2, scYStep: 1, txX: [-3.3, 3.85], txY: [-4.31, 3.88], txXStep: 1, txYStep: 2 },
  { frame: { x: 102, y: 490, w: 508, h: 389 }, h1: { x: 135, y: 523, w: 217, h: 158 }, tx: { x: 360, y: 523, w: 217, h: 158 },
    sc: { x: 135, y: 689, w: 217, h: 158 }, h2: { x: 360, y: 689, w: 217, h: 158 },
    trans: { x: 127, y: 603 }, prot: { x: 458, y: 861 }, t1: { x: 167, y: 563 }, t2: { x: 489, y: 735 }, corrSize: 27,
    scX: [-4.41, 3.95], scY: [-4.49, 5.86], scXStep: 2, scYStep: 2, txX: [-4.47, 5.83], txY: [-4.42, 3.98], txXStep: 2, txYStep: 2 },
  { frame: { x: 683, y: 484, w: 554, h: 395 }, h1: { x: 718, y: 508, w: 239, h: 165 }, tx: { x: 964, y: 508, w: 239, h: 165 },
    sc: { x: 718, y: 680, w: 239, h: 166 }, h2: { x: 964, y: 680, w: 239, h: 166 },
    trans: { x: 707, y: 585 }, prot: { x: 1065, y: 861 }, t1: { x: 750, y: 548 }, t2: { x: 1117, y: 719 }, corrSize: 55,
    scX: [-4.42, 3.96], scY: [-3.47, 5.96], scXStep: 2, scYStep: 2, txX: [-3.43, 5.92], txY: [-4.42, 3.96], txXStep: 2, txYStep: 2 },
  { frame: { x: 102, y: 929, w: 508, h: 390 }, h1: { x: 135, y: 962, w: 217, h: 156 }, tx: { x: 360, y: 962, w: 217, h: 156 },
    sc: { x: 135, y: 1126, w: 217, h: 156 }, h2: { x: 360, y: 1126, w: 217, h: 156 },
    trans: { x: 127, y: 1038 }, prot: { x: 458, y: 1297 }, t1: { x: 167, y: 998 }, t2: { x: 489, y: 1170 }, corrSize: 40,
    scX: [-4.61, 4.62], scY: [-3.48, 4.64], scXStep: 2, scYStep: 2, txX: [-3.47, 4.66], txY: [-4.63, 4.57], txXStep: 2, txYStep: 2 },
  { frame: { x: 683, y: 925, w: 539, h: 394 }, h1: { x: 718, y: 958, w: 232, h: 159 }, tx: { x: 957, y: 958, w: 232, h: 159 },
    sc: { x: 718, y: 1124, w: 232, h: 157 }, h2: { x: 957, y: 1124, w: 232, h: 157 },
    trans: { x: 707, y: 1038 }, prot: { x: 1080, y: 1296 }, t1: { x: 750, y: 984 }, t2: { x: 1102, y: 1154 }, corrSize: 49,
    scX: [-4.6, 4.64], scY: [-4.14, 4.29], scXStep: 2, scYStep: 2, txX: [-4.16, 4.29], txY: [-4.65, 4.67], txXStep: 2, txYStep: 2 },
];

const M = 10;
const AX = 14;
const BLUE = "#4f81bd";
const HIST_FILL = "#fbe0a9";
const HIST_EDGE = "#968872";
const TICK_FONT = { size: 7, family: "'Liberation Sans', Arial, sans-serif" };
const TICK_COLOR = "#858585";
const LABEL_FONT = "Lato, 'Open Sans', sans-serif";

function tickGrid() {
  return { drawOnChartArea: false, drawTicks: true, tickLength: 3, color: "#9a9a9a", lineWidth: 1 };
}

function HistPlot({ box, values }: { box: Box; values: number[] }) {
  const ref = useRef<HTMLCanvasElement>(null);
  useEffect(() => {
    const chart = new Chart(ref.current!, {
      type: "bar",
      data: {
        labels: values.map((_, i) => String(i)),
        datasets: [{
          data: values, backgroundColor: HIST_FILL, borderColor: HIST_EDGE, borderWidth: 0.8,
          barPercentage: 1, categoryPercentage: 1, borderSkipped: false,
        }],
      },
      options: {
        animation: false, responsive: false, events: [],
        layout: { padding: { left: 4, right: 4, top: 3, bottom: 2 } },
        plugins: { legend: { display: false }, tooltip: { enabled: false } },
        scales: { x: { display: false }, y: { display: false, min: 0, max: 100 } },
      },
    } as any);
    return () => chart.destroy();
  }, []);
  return <canvas ref={ref} width={box.w} height={box.h}
    style={{ position: "absolute", left: box.x, top: box.y, width: box.w, height: box.h }} />;
}

function ScatterPlot({ L, clouds }: { L: Layout; clouds: number[][][] }) {
  const ref = useRef<HTMLCanvasElement>(null);
  const b = L.sc;
  const W = b.w + 2 * M + AX;
  const H = b.h + 2 * M + AX;
  useEffect(() => {
    const pts = clouds.flat().map(([x, y]) => ({ x, y }));
    const chart = new Chart(ref.current!, {
      type: "scatter",
      data: {
        datasets: [
          { data: pts, pointRadius: 2.7, backgroundColor: "rgba(30,30,30,0.32)", borderColor: "rgba(0,0,0,0.6)",
            borderWidth: 0.8, order: 1 },
          { type: "line", data: identityLine.map((v) => ({ x: v, y: v })), borderColor: "rgba(245,110,110,0.85)",
            borderWidth: 1.3, pointRadius: 0, order: 2 },
        ],
      },
      options: {
        animation: false, responsive: false, events: [],
        layout: { padding: M },
        plugins: { legend: { display: false }, tooltip: { enabled: false } },
        scales: {
          x: { type: "linear", position: "bottom", min: L.scX[0], max: L.scX[1],
            afterFit: (s: any) => { s.height = AX; },
            ticks: { stepSize: L.scXStep, includeBounds: false, autoSkip: false, maxRotation: 0, font: TICK_FONT, color: TICK_COLOR, padding: 1 },
            grid: tickGrid(), border: { display: false } },
          y: { type: "linear", position: "left", min: L.scY[0], max: L.scY[1],
            afterFit: (s: any) => { s.width = AX; },
            ticks: { stepSize: L.scYStep, includeBounds: false, autoSkip: false, minRotation: 90, maxRotation: 90, crossAlign: "center",
              font: TICK_FONT, color: TICK_COLOR, padding: 1 },
            grid: tickGrid(), border: { display: false } },
        },
      },
    } as any);
    return () => chart.destroy();
  }, []);
  return <canvas ref={ref} width={W} height={H}
    style={{ position: "absolute", left: b.x - M - AX, top: b.y - M, width: W, height: H }} />;
}

function CorrPlot({ L, r }: { L: Layout; r: number }) {
  const ref = useRef<HTMLCanvasElement>(null);
  const b = L.tx;
  const W = b.w + 2 * M + AX;
  const H = b.h + 2 * M + AX;
  useEffect(() => {
    const corrText = {
      id: "corrText",
      afterDraw(chart: any) {
        const { ctx, chartArea } = chart;
        ctx.save();
        ctx.font = `${L.corrSize}px 'Liberation Sans', Arial, sans-serif`;
        ctx.fillStyle = "#000";
        ctx.textAlign = "center";
        ctx.textBaseline = "middle";
        ctx.fillText(r.toFixed(2), (chartArea.left + chartArea.right) / 2, (chartArea.top + chartArea.bottom) / 2 + 1);
        ctx.restore();
      },
    };
    const chart = new Chart(ref.current!, {
      type: "scatter",
      data: { datasets: [{ data: [] }] },
      options: {
        animation: false, responsive: false, events: [],
        layout: { padding: M },
        plugins: { legend: { display: false }, tooltip: { enabled: false } },
        scales: {
          x: { type: "linear", position: "top", min: L.txX[0], max: L.txX[1],
            afterFit: (s: any) => { s.height = AX; },
            ticks: { stepSize: L.txXStep, includeBounds: false, autoSkip: false, maxRotation: 0, font: TICK_FONT, color: TICK_COLOR, padding: 1 },
            grid: tickGrid(), border: { display: false } },
          y: { type: "linear", position: "right", min: L.txY[0], max: L.txY[1],
            afterFit: (s: any) => { s.width = AX; },
            ticks: { stepSize: L.txYStep, includeBounds: false, autoSkip: false, minRotation: 90, maxRotation: 90, crossAlign: "center",
              font: TICK_FONT, color: TICK_COLOR, padding: 1 },
            grid: tickGrid(), border: { display: false } },
        },
      },
      plugins: [corrText],
    } as any);
    return () => chart.destroy();
  }, []);
  return <canvas ref={ref} width={W} height={H}
    style={{ position: "absolute", left: b.x - M, top: b.y - M - AX, width: W, height: H }} />;
}

function FrameBox({ b }: { b: Box }) {
  return <div style={{ position: "absolute", left: b.x, top: b.y, width: b.w, height: b.h, boxSizing: "border-box",
    border: "1.5px solid #8a8a8a" }} />;
}

function Panel({ L, idx }: { L: Layout; idx: number }) {
  const s = panelSeries[idx];
  const txt: React.CSSProperties = { position: "absolute", fontFamily: LABEL_FONT, color: "#111", whiteSpace: "nowrap", lineHeight: 1 };
  return (
    <>
      <div style={{ position: "absolute", left: L.frame.x, top: L.frame.y, width: L.frame.w, height: L.frame.h,
        boxSizing: "border-box", border: "1px solid #dedede", background: "#fff" }} />
      <FrameBox b={L.h1} />
      <FrameBox b={L.tx} />
      <FrameBox b={L.sc} />
      <FrameBox b={L.h2} />
      <HistPlot box={L.h1} values={s.transcript} />
      <HistPlot box={L.h2} values={s.protein} />
      <ScatterPlot L={L} clouds={s.clouds} />
      <CorrPlot L={L} r={correlations[idx]} />
      <div style={{ ...txt, left: L.trans.x, top: L.trans.y, transform: "translate(-50%,-50%) rotate(-90deg)", fontSize: 22, fontWeight: 700 }}>Transcript</div>
      <div style={{ ...txt, left: L.prot.x, top: L.prot.y, transform: "translate(-50%,-50%)", fontSize: 22, fontWeight: 700 }}>Protein</div>
      <div style={{ ...txt, left: L.t1.x, top: L.t1.y, transform: "translateY(-50%)", fontSize: 21 }}>{transcriptTimes[idx]}</div>
      <div style={{ ...txt, left: L.t2.x, top: L.t2.y, transform: "translateY(-50%)", fontSize: 21 }}>{proteinTimes[idx]}</div>
    </>
  );
}

const strainBoxes: Box[] = [
  { x: 16, y: 223, w: 55, h: 107 },
  { x: 16, y: 626, w: 55, h: 101 },
  { x: 16, y: 1080, w: 55, h: 100 },
];

export default function App() {
  const line = (x: number, y: number, w: number, h: number, c = BLUE) => (
    <div style={{ position: "absolute", left: x, top: y, width: w, height: h, background: c }} />
  );
  const head: React.CSSProperties = { position: "absolute", top: 40, transform: "translate(-50%,-50%)", fontFamily: LABEL_FONT,
    fontSize: 28, color: "#111", whiteSpace: "nowrap", lineHeight: 1 };
  return (
    <div style={{ position: "absolute", left: 0, top: 0, width: 1243, height: 1315, overflow: "hidden", background: "#fff" }}>
      {layouts.map((L, i) => <Panel key={i} L={L} idx={i} />)}
      {/* gap in top border of YPPF transcript panel */}
      <div style={{ position: "absolute", left: 160, top: 521, width: 158, height: 4, background: "#fff" }} />
      {/* table grid */}
      {line(11, 10, 1232, 4)}
      {line(11, 56, 1232, 5)}
      {line(11, 475, 1232, 5)}
      {line(11, 909, 1232, 5)}
      {line(11, 1312, 1232, 2, "#9bb7dc")}
      {line(11, 10, 4, 1305)}
      {line(70, 10, 5, 1305)}
      {line(636, 10, 5, 1305)}
      {strainBoxes.map((b, i) => (
        <div key={i} style={{ position: "absolute", left: b.x, top: b.y, width: b.w, height: b.h, boxSizing: "border-box",
          border: "1.5px solid #2f528f", background: "#fff" }}>
          <div style={{ position: "absolute", left: "50%", top: "50%", transform: "translate(-50%,-50%) rotate(-90deg)",
            fontFamily: LABEL_FONT, fontSize: 25, color: "#222", whiteSpace: "nowrap", lineHeight: 1 }}>{strains[i]}</div>
        </div>
      ))}
      <div style={{ ...head, left: 361 }}>{columnHeaders[0]}</div>
      <div style={{ ...head, left: 955 }}>{columnHeaders[1]}</div>
    </div>
  );
}
